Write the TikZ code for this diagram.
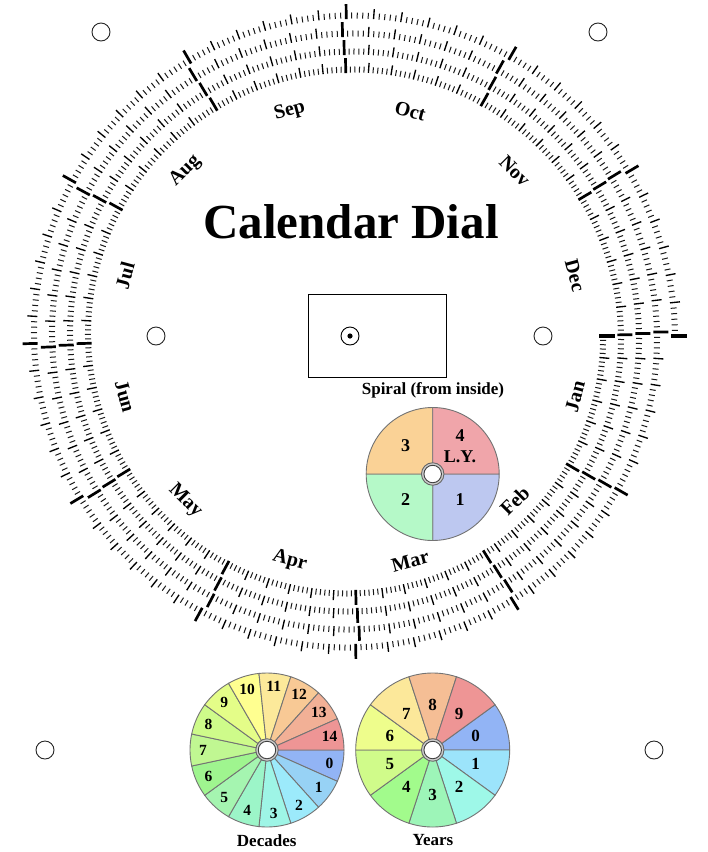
\documentclass[tikz,border=0pt]{standalone}
\usepackage{fontspec}
\setmainfont{Liberation Serif}
\newcount\daycount
\definecolor{qone}{HTML}{BDC8F0}
\definecolor{qtwo}{HTML}{B5F9C8}
\definecolor{qthree}{HTML}{FAD296}
\definecolor{qfour}{HTML}{F0A5AA}
\tikzset{
	hole/.style={circle, draw=black!85, line width=0.9pt, fill=white, minimum size=18pt, inner sep=0pt},
	monthname/.style={font=\fontsize{20}{20}\selectfont\bfseries, inner sep=0pt},
	dialname/.style={font=\fontsize{17}{17}\selectfont\bfseries, inner sep=0pt},
	slice/.style={draw=black!55, line width=0.9pt},
	hubout/.style={circle, draw=black!60, line width=0.9pt, fill=black!20, minimum size=22.5pt, inner sep=0pt},
	hubin/.style={circle, draw=black!75, line width=0.9pt, fill=white, minimum size=17.5pt, inner sep=0pt},
	daysmall/.style={line width=1pt, black!90},
	daymid/.style={line width=1.35pt, black},
	daylong/.style={line width=2.7pt, black},
	dayend/.style={line width=3.8pt, black}
}
\begin{document}
\begin{tikzpicture}[x=1pt, y=-1pt, line cap=butt]
	\useasboundingbox (0,0) rectangle (708,852);
	% holes
	\foreach \hname/\hx/\hy in {a/101/32, b/598/32, c/156/336, d/543/336, e/45/750, f/654/750}
		\node[hole] (hole\hname) at (\hx,\hy) {};
	\node[font=\fontsize{49}{49}\selectfont\bfseries, inner sep=0pt] (title) at (351,222) {Calendar Dial};
	% window
	\draw[line width=1pt] (308.5,294.5) rectangle (446.5,377.5);
	\node[circle, draw, line width=0.9pt, minimum size=18pt, inner sep=0pt] (pivot) at (350,336) {};
	\fill (pivot.center) circle (2.6);
	% months
	\begin{scope}[shift={(350,336)}]
		\foreach \mname/\mang/\mrot in {Jan/15/75, Feb/45/45, Mar/75/15, Apr/105/-15, May/135/-45, Jun/165/-75, Jul/195/75, Aug/225/45, Sep/255/15, Oct/285/-15, Nov/315/-45, Dec/345/-75}
			\node[monthname, rotate=\mrot] (\mname) at (\mang:233) {\mname};
		% spiral, one tick a day
		\global\daycount=0
		\foreach \yr in {1,...,4} {
			\foreach \mon in {1,...,12} {
				\pgfmathtruncatemacro{\lastd}{{31,28,31,30,31,30,31,31,30,31,30,31}[\mon-1]+and(\yr==4,\mon==2)-1}
				\foreach \dd in {0,...,\lastd} {
					\pgfmathsetmacro{\ang}{\the\daycount*0.985626}
					\pgfmathsetmacro{\rad}{250+\the\daycount*0.049281}
					\pgfmathtruncatemacro{\kind}{\dd==0 ? 0 : (and(mod(\dd,5)==0,\dd<30) ? 1 : 2)}
					\ifcase\kind
						\draw[daylong] (\ang:\rad-0.5) -- (\ang:\rad+14.5);
					\or
						\draw[daymid] (\ang:\rad) -- (\ang:\rad+10);
					\or
						\draw[daysmall] (\ang:\rad) -- (\ang:\rad+6);
					\fi
					\global\advance\daycount by 1
				}
			}
		}
		\draw[dayend] (0:249) -- (0:265);
		\draw[dayend] (0:321) -- (0:337);
	\end{scope}
	% spiral dial
	\node[dialname] (spiralname) at (433,390) {Spiral (from inside)};
	\begin{scope}[shift={(432.7,474)}]
		\foreach \qcol [count=\i from 0] in {qone, qtwo, qthree, qfour}
			\filldraw[slice, fill=\qcol] (0,0) -- (\i*90:66.5) arc[start angle=\i*90, end angle=\i*90+90, radius=66.5] -- cycle;
		\node[hubout] (spiralhub) at (0,0) {};
		\node[hubin] at (spiralhub) {};
	\end{scope}
	\begin{scope}[font=\fontsize{18}{18}\selectfont\bfseries]
		\node[inner sep=0pt] (qd1) at (460,500) {1};
		\node[inner sep=0pt] (qd2) at (405.7,500) {2};
		\node[inner sep=0pt] (qd3) at (405.7,446) {3};
		\node[inner sep=0pt] (qd4) at (460,436) {4};
		\node[inner sep=0pt] (leap) at (460,457) {L.Y.};
	\end{scope}
	% decades
	\begin{scope}[shift={(267,750)}]
		\foreach \dcol [count=\i from 0] in {92B4F5, 97D2F5, 9CEAFB, 9EF5E6, 9CF5C8, A5F5B0, 9FF58F, C0F792, CEFB8A, E4FD88, FFFF90, FCE99A, F8C995, F2B096, EE9595} {
			\definecolor{wedge}{HTML}{\dcol}
			\filldraw[slice, fill=wedge] (0,0) -- (\i*24:77) arc[start angle=\i*24, end angle=\i*24+24, radius=77] -- cycle;
			\node[font=\fontsize{15.5}{15.5}\selectfont\bfseries, inner sep=0pt] (dec\i) at (\i*24+12:64) {\i};
		}
		\node[hubout] (dechub) at (0,0) {};
		\node[hubin] at (dechub) {};
	\end{scope}
	\node[dialname] (decname) at (266.7,840.5) {Decades};
	% years
	\begin{scope}[shift={(432.7,750)}]
		\foreach \ycol [count=\i from 0] in {92B4F5, 9CE4FB, 9EF8E8, 9DF5B8, A2FB8C, D0FB8A, EEFD8C, FCE89A, F5BE95, EE9595} {
			\definecolor{wedge}{HTML}{\ycol}
			\filldraw[slice, fill=wedge] (0,0) -- (\i*36-36:77) arc[start angle=\i*36-36, end angle=\i*36, radius=77] -- cycle;
			\node[font=\fontsize{17}{17}\selectfont\bfseries, inner sep=0pt] (yr\i) at (\i*36-18:45) {\i};
		}
		\node[hubout] (yrhub) at (0,0) {};
		\node[hubin] at (yrhub) {};
	\end{scope}
	\node[dialname] (yrname) at (433,840.5) {Years};
\end{tikzpicture}
\end{document}
